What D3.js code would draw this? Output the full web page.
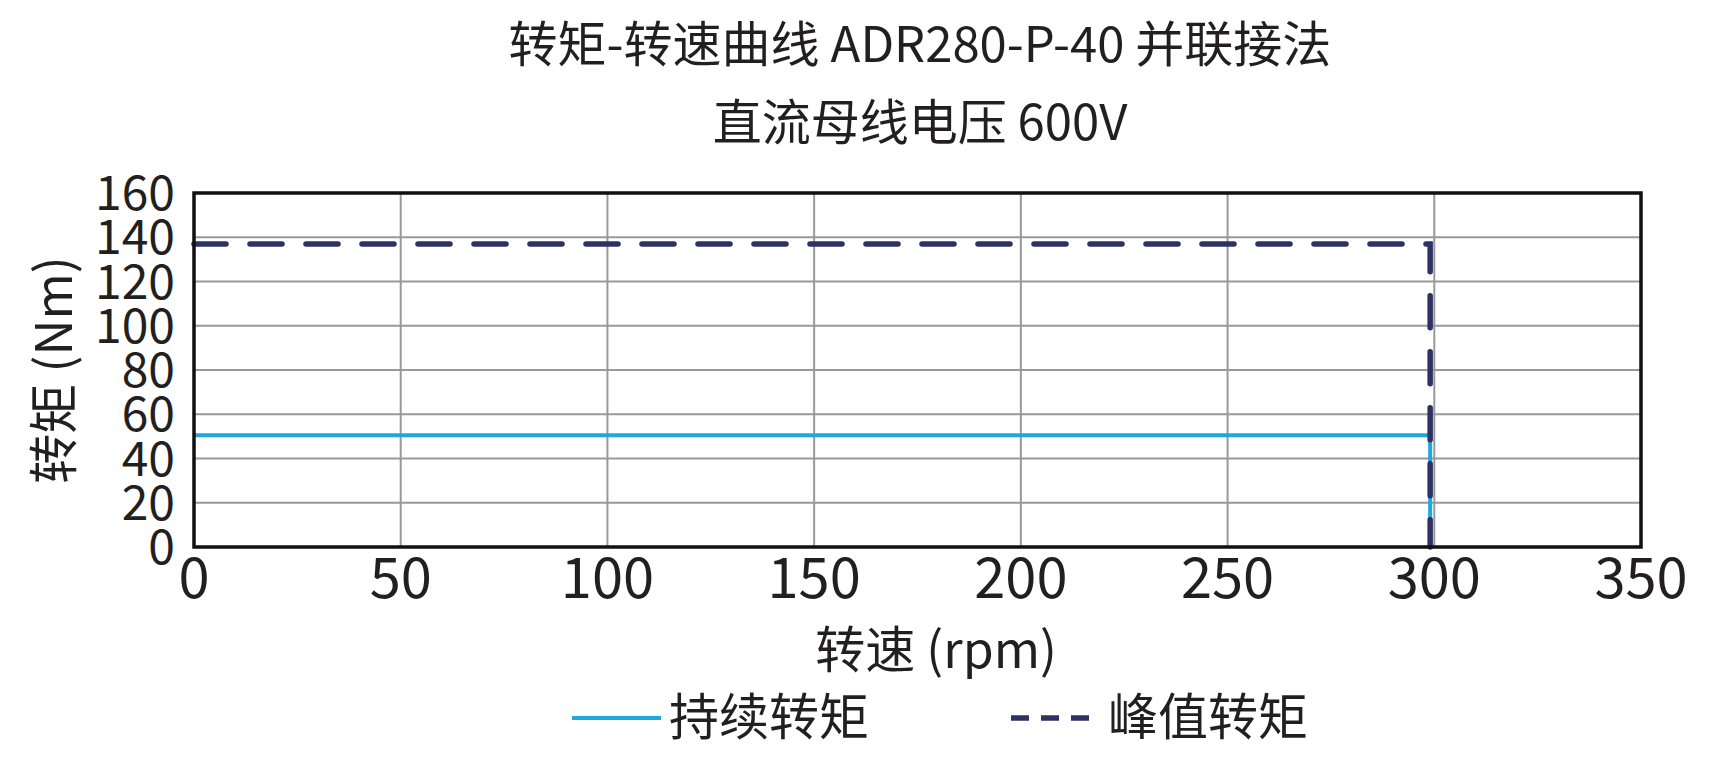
<!DOCTYPE html><html><head><meta charset="utf-8"><script src="https://cdn.jsdelivr.net/npm/d3@7"></script>
<style>body{margin:0;background:#fff}text{font-family:"Noto Sans CJK SC","Noto Sans",sans-serif;fill:#231f20}</style></head><body><svg width="1724" height="772"></svg><script>
const titleLines=["转矩-转速曲线 ADR280-P-40 并联接法","直流母线电压 600V"];
const xTicks=[0,50,100,150,200,250,300,350];
const yTicks=[0,20,40,60,80,100,120,140,160];
const contX=[0,299,299], contY=[50.5,50.5,0];
const peakX=[0,299,299], peakY=[137,137,0];
const seriesNames=["持续转矩","峰值转矩"];
const svg=d3.select("svg");
const L=194,R=1641,T=193,B=547;
const x=d3.scaleLinear().domain([0,350]).range([L,R]);
const y=d3.scaleLinear().domain([0,160]).range([B,T]);
svg.selectAll(".t").data(titleLines).join("text").attr("x",920).attr("y",(d,i)=>62+i*78).attr("text-anchor","middle").attr("font-size",49).text(d=>d);
svg.append("g").selectAll("line").data(yTicks.slice(1,-1)).join("line").attr("x1",L).attr("x2",R).attr("y1",d=>y(d)).attr("y2",d=>y(d)).attr("stroke","#999").attr("stroke-width",2);
svg.append("g").selectAll("line").data(xTicks.slice(1,-1)).join("line").attr("y1",T).attr("y2",B).attr("x1",d=>x(d)).attr("x2",d=>x(d)).attr("stroke","#999").attr("stroke-width",2);
const line=d3.line().x(d=>x(d[0])).y(d=>y(d[1]));
svg.append("path").attr("d",line(contX.map((v,i)=>[v,contY[i]]))).attr("fill","none").attr("stroke","#1ea8e0").attr("stroke-width",4);
svg.append("path").attr("d",line(peakX.map((v,i)=>[v,peakY[i]]))).attr("fill","none").attr("stroke","#2e3163").attr("stroke-width",5.5).attr("stroke-dasharray","32,24").attr("stroke-linecap","round");
svg.append("rect").attr("x",L).attr("y",T).attr("width",R-L).attr("height",B-T).attr("fill","none").attr("stroke","#111").attr("stroke-width",3.5);
svg.selectAll(".yt").data(yTicks).join("text").attr("x",175).attr("y",d=>y(d)+17).attr("text-anchor","end").attr("font-size",48).text(d=>d);
svg.selectAll(".xt").data(xTicks).join("text").attr("x",d=>x(d)).attr("y",598).attr("text-anchor","middle").attr("font-size",56).text(d=>d);
svg.append("text").attr("x",936).attr("y",668).attr("text-anchor","middle").attr("font-size",50).text("转速 (rpm)");
svg.append("text").attr("transform","translate(72,370) rotate(-90)").attr("text-anchor","middle").attr("font-size",50).text("转矩 (Nm)");
const lg=[{x:572,c:"#1ea8e0",d:null,w:4},{x:1011,c:"#2e3163",d:"18,12",w:5.5}];
lg.forEach((g,i)=>{svg.append("line").attr("x1",g.x).attr("x2",g.x+89).attr("y1",718).attr("y2",718).attr("stroke",g.c).attr("stroke-width",g.w).attr("stroke-dasharray",g.d);
svg.append("text").attr("x",g.x+97).attr("y",735).attr("font-size",50).text(seriesNames[i]);});
</script></body></html>
